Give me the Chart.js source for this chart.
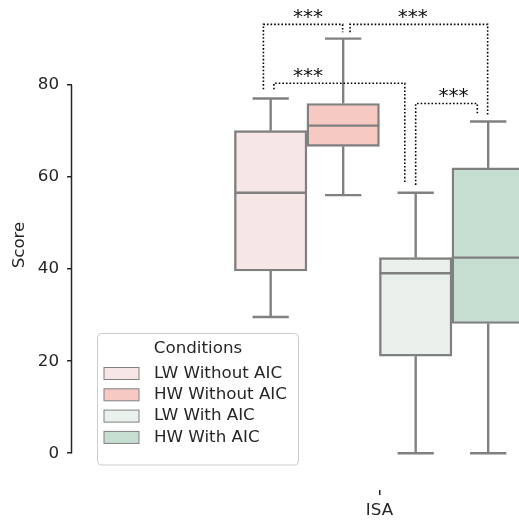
<!DOCTYPE html>
<html>
<head>
<meta charset="utf-8">
<script src="https://cdn.jsdelivr.net/npm/chart.js@4.4.1/dist/chart.umd.min.js"></script>
<style>
  html, body { margin: 0; padding: 0; background: #fff; }
  #wrap { width: 519px; height: 520px; }
</style>
</head>
<body>
<div id="wrap"><canvas id="chart" width="519" height="520"></canvas></div>
<script>
// ---- data ----
const CATEGORIES = ['ISA'];
const CONDITIONS = ['LW Without AIC', 'HW Without AIC', 'LW With AIC', 'HW With AIC'];
const COLORS = ['#f6e6e5', '#f6c9c3', '#eaf1ec', '#c6ddd2'];

// dodge position of each box inside the ISA group
const OFFSETS = [-0.3, -0.1, 0.1, 0.3];

// box summaries
const WHISKER_LOW = [29.6, 56.1, 0, 0];
const Q1 = [39.6, 66.7, 21.1, 28.2];
const MEDIAN = [56.6, 71.2, 39.1, 42.5];
const Q3 = [70.1, 76.0, 42.5, 62.0];
const WHISKER_HIGH = [77.1, 90.1, 56.6, 72.1];

const Y_TICKS = [0, 20, 40, 60, 80];

// significance brackets
const SIG_LABELS = ['***', '***', '***', '***'];
const SIG_X1 = [-0.32, -0.081, -0.291, 0.1];
const SIG_Y1 = [79.1, 91.5, 79.1, 58.3];
const SIG_X2 = [-0.1015, 0.2985, 0.07, 0.27];
const SIG_Y2 = [91.5, 73.6, 58.6, 73.5];
const SIG_TOP = [93.2, 93.2, 80.4, 76.0];
const SIG_TEXT_X = [-0.197, 0.092, -0.197, 0.204];

// ---- styles ----
const EDGE = '#808080';
const INK = '#262626';
const FONT = 'DejaVu Sans';
const FS = 16.7;
const LW = 2.4;

function strokeLine(ctx, x1, y1, x2, y2) {
  ctx.beginPath();
  ctx.moveTo(x1, y1);
  ctx.lineTo(x2, y2);
  ctx.stroke();
}

const boxParts = {
  id: 'boxParts',
  afterDatasetsDraw(chart) {
    const ctx = chart.ctx;
    const x = chart.scales.x, y = chart.scales.y;
    ctx.save();
    ctx.strokeStyle = EDGE;
    ctx.lineWidth = LW;
    OFFSETS.forEach((off, i) => {
      const bar = chart.getDatasetMeta(i).data[0];
      const half = bar.width / 2;
      const cx = x.getPixelForValue(off);
      const yHi = y.getPixelForValue(WHISKER_HIGH[i]);
      const yLo = y.getPixelForValue(WHISKER_LOW[i]);
      strokeLine(ctx, cx, y.getPixelForValue(Q3[i]), cx, yHi);
      strokeLine(ctx, cx, y.getPixelForValue(Q1[i]), cx, yLo);
      strokeLine(ctx, cx - half / 2, yHi, cx + half / 2, yHi);
      strokeLine(ctx, cx - half / 2, yLo, cx + half / 2, yLo);
      const ym = y.getPixelForValue(MEDIAN[i]);
      strokeLine(ctx, cx - half, ym, cx + half, ym);
    });
    ctx.restore();
  },
  afterDraw(chart) {
    const ctx = chart.ctx;
    const x = chart.scales.x, y = chart.scales.y;
    const area = chart.chartArea;

    // trimmed left spine
    ctx.save();
    ctx.strokeStyle = INK;
    ctx.lineWidth = 1.5;
    const sx = area.left - 0.5;
    strokeLine(ctx, sx, y.getPixelForValue(Y_TICKS[0]), sx, y.getPixelForValue(Y_TICKS[Y_TICKS.length - 1]));
    ctx.restore();

    // brackets
    ctx.save();
    ctx.strokeStyle = '#000';
    ctx.lineWidth = 1.6;
    ctx.setLineDash([1.6, 2]);
    ctx.fillStyle = '#111';
    ctx.font = '20px "' + FONT + '"';
    ctx.textAlign = 'center';
    ctx.textBaseline = 'alphabetic';
    SIG_LABELS.forEach((lab, i) => {
      const x1 = x.getPixelForValue(SIG_X1[i]);
      const x2 = x.getPixelForValue(SIG_X2[i]);
      const yt = y.getPixelForValue(SIG_TOP[i]);
      ctx.beginPath();
      ctx.moveTo(x1, y.getPixelForValue(SIG_Y1[i]));
      ctx.lineTo(x1, yt);
      ctx.lineTo(x2, yt);
      ctx.lineTo(x2, y.getPixelForValue(SIG_Y2[i]));
      ctx.stroke();
      ctx.fillText(lab, x.getPixelForValue(SIG_TEXT_X[i]), yt - 1.5);
    });
    ctx.restore();

    // legend box, lower left inside the axes
    const lx = area.left + 25.5, ly = 333.5, lw = 201, lh = 131.5;
    ctx.save();
    ctx.beginPath();
    ctx.roundRect(lx, ly, lw, lh, 4);
    ctx.fillStyle = 'rgba(255,255,255,0.8)';
    ctx.fill();
    ctx.strokeStyle = '#cccccc';
    ctx.lineWidth = 1;
    ctx.stroke();
    ctx.font = FS + 'px "' + FONT + '"';
    ctx.fillStyle = INK;
    ctx.textBaseline = 'middle';
    ctx.textAlign = 'center';
    ctx.fillText('Conditions', lx + lw / 2, ly + 15);
    ctx.textAlign = 'left';
    CONDITIONS.forEach((name, i) => {
      const ry = ly + 40 + i * 21.3;
      ctx.fillStyle = COLORS[i];
      ctx.fillRect(lx + 6.5, ry - 6, 35, 12);
      ctx.strokeStyle = EDGE;
      ctx.lineWidth = 1;
      ctx.strokeRect(lx + 6.5, ry - 6, 35, 12);
      ctx.fillStyle = INK;
      ctx.fillText(name, lx + 56.5, ry);
    });
    ctx.restore();
  }
};

const datasets = CONDITIONS.map((name, i) => ({
  label: name,
  data: [{ x: OFFSETS[i], y: [Q1[i], Q3[i]] }],
  backgroundColor: COLORS[i],
  borderColor: EDGE,
  borderWidth: LW,
  borderSkipped: false,
  grouped: false,
  barPercentage: 1,
  categoryPercentage: 1
}));

new Chart(document.getElementById('chart'), {
  type: 'bar',
  data: { datasets: datasets },
  plugins: [boxParts],
  options: {
    responsive: false,
    devicePixelRatio: 1,
    animation: false,
    layout: { padding: 0 },
    plugins: { legend: { display: false }, tooltip: { enabled: false } },
    scales: {
      x: {
        type: 'linear',
        offset: false,
        min: -0.848,
        max: 0.385,
        afterBuildTicks: (s) => { s.ticks = [{ value: 0 }]; },
        afterFit: (s) => { s.height = 30; s.paddingLeft = 0; s.paddingRight = 0; },
        ticks: {
          callback: () => CATEGORIES[0],
          color: INK,
          padding: 6,
          font: { family: FONT, size: FS }
        },
        grid: { offset: false, drawOnChartArea: false, drawTicks: true, tickLength: 5, color: INK, lineWidth: 1.5 },
        border: { display: false }
      },
      y: {
        min: -8,
        max: 98.5,
        afterBuildTicks: (s) => { s.ticks = Y_TICKS.map(v => ({ value: v })); },
        afterFit: (s) => { s.width = 72; s.paddingTop = 0; s.paddingBottom = 0; },
        ticks: {
          color: INK,
          padding: 8,
          font: { family: FONT, size: FS }
        },
        title: {
          display: true,
          text: 'Score',
          color: INK,
          padding: { top: 10, bottom: 0 },
          font: { family: FONT, size: FS }
        },
        grid: { drawOnChartArea: false, drawTicks: true, tickLength: 5, color: INK, lineWidth: 1.5 },
        border: { display: false }
      }
    }
  }
});
</script>
</body>
</html>
